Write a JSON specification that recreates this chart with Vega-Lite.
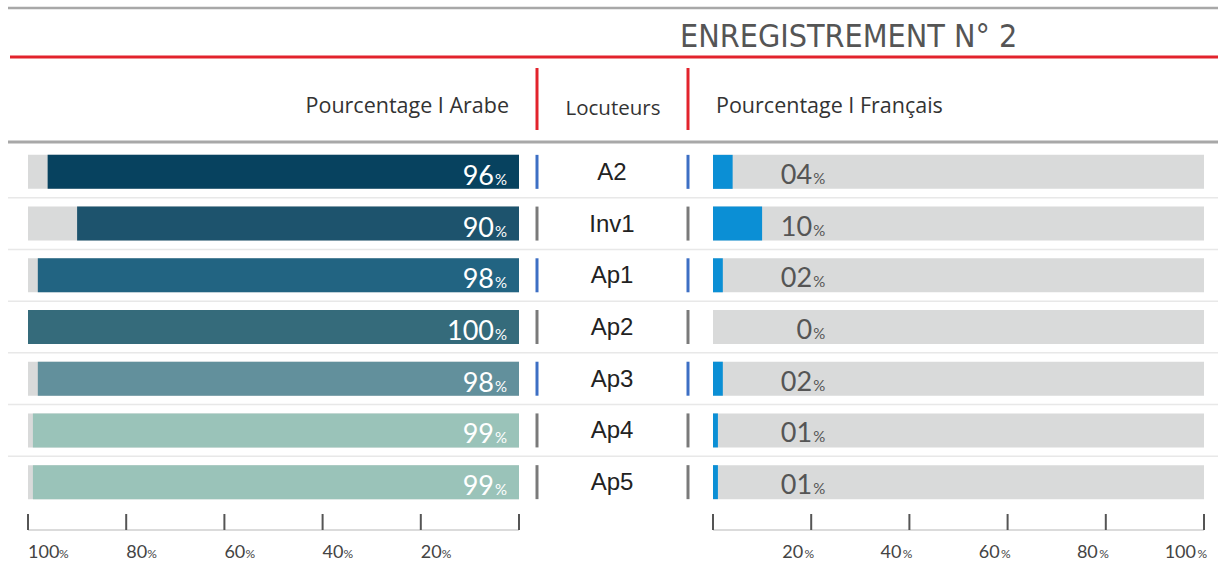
{
  "$schema": "https://vega.github.io/schema/vega-lite/v6.json",
  "width": 1220,
  "height": 562,
  "padding": 0,
  "autosize": {"type": "none"},
  "background": "white",
  "config": {"view": {"stroke": null}},
  "datasets": {
    "locuteurs": [
      {"locuteur": "A2", "arabe": 96, "francais": 4, "repere": "oui"},
      {"locuteur": "Inv1", "arabe": 90, "francais": 10, "repere": "non"},
      {"locuteur": "Ap1", "arabe": 98, "francais": 2, "repere": "oui"},
      {"locuteur": "Ap2", "arabe": 100, "francais": 0, "repere": "non"},
      {"locuteur": "Ap3", "arabe": 98, "francais": 2, "repere": "oui"},
      {"locuteur": "Ap4", "arabe": 99, "francais": 1, "repere": "non"},
      {"locuteur": "Ap5", "arabe": 99, "francais": 1, "repere": "non"}
    ],
    "graduations": [
      {"valeur": 0}, {"valeur": 20}, {"valeur": 40}, {"valeur": 60}, {"valeur": 80}, {"valeur": 100}
    ],
    "vide": [{}]
  },
  "resolve": {"scale": {"x": "independent", "color": "independent"}},
  "layer": [
    {
      "data": {"name": "vide"},
      "mark": {"type": "rule", "color": "#a8a8a8", "strokeWidth": 2.5},
      "encoding": {"x": {"value": 8}, "x2": {"value": 1218}, "y": {"value": 8}}
    },
    {
      "data": {"name": "vide"},
      "mark": {"type": "rule", "color": "#e2232c", "strokeWidth": 3},
      "encoding": {"x": {"value": 10}, "x2": {"value": 1218}, "y": {"value": 57}}
    },
    {
      "data": {"name": "vide"},
      "mark": {"type": "rule", "color": "#a8a8a8", "strokeWidth": 3},
      "encoding": {"x": {"value": 8}, "x2": {"value": 1218}, "y": {"value": 142}}
    },
    {
      "data": {"name": "vide"},
      "mark": {"type": "text", "text": "ENREGISTREMENT N° 2", "align": "left", "baseline": "alphabetic", "font": "Liberation Sans Narrow, DejaVu Sans Condensed, Liberation Sans", "fontSize": 32, "color": "#555555"},
      "encoding": {"x": {"value": 680}, "y": {"value": 47}}
    },
    {
      "data": {"name": "vide"},
      "mark": {"type": "text", "text": "Pourcentage I Arabe", "align": "right", "baseline": "alphabetic", "font": "Open Sans", "fontSize": 21.5, "color": "#333333"},
      "encoding": {"x": {"value": 509}, "y": {"value": 113}}
    },
    {
      "data": {"name": "vide"},
      "mark": {"type": "text", "text": "Locuteurs", "align": "center", "baseline": "alphabetic", "font": "Open Sans", "fontSize": 20.5, "color": "#333333"},
      "encoding": {"x": {"value": 613}, "y": {"value": 115}}
    },
    {
      "data": {"name": "vide"},
      "mark": {"type": "text", "text": "Pourcentage I Français", "align": "left", "baseline": "alphabetic", "font": "Open Sans", "fontSize": 21.5, "color": "#333333"},
      "encoding": {"x": {"value": 716}, "y": {"value": 113}}
    },
    {
      "data": {"name": "vide"},
      "mark": {"type": "rule", "color": "#e2232c", "strokeWidth": 3},
      "encoding": {"x": {"value": 537}, "y": {"value": 68}, "y2": {"value": 130}}
    },
    {
      "data": {"name": "vide"},
      "mark": {"type": "rule", "color": "#e2232c", "strokeWidth": 3},
      "encoding": {"x": {"value": 688}, "y": {"value": 68}, "y2": {"value": 130}}
    },
    {
      "data": {"name": "locuteurs"},
      "transform": [{"filter": "datum.locuteur !== 'Ap5'"}],
      "mark": {"type": "rule", "color": "#e8e8e8", "strokeWidth": 1.5},
      "encoding": {
        "x": {"value": 8}, "x2": {"value": 1218},
        "y": {"field": "locuteur", "type": "nominal", "bandPosition": 1, "sort": null, "axis": null,
              "scale": {"type": "band", "domain": ["A2", "Inv1", "Ap1", "Ap2", "Ap3", "Ap4", "Ap5"], "range": [146, 508], "paddingInner": 0, "paddingOuter": 0}}
      }
    },
    {
      "data": {"name": "locuteurs"},
      "mark": {"type": "bar", "height": 34, "color": "#d9dada", "orient": "horizontal"},
      "encoding": {
        "x": {"datum": 0, "type": "quantitative", "axis": null, "scale": {"domain": [0, 100], "range": [519, 28]}},
        "x2": {"datum": 100},
        "y": {"field": "locuteur", "type": "nominal", "sort": null, "axis": null,
              "scale": {"type": "band", "domain": ["A2", "Inv1", "Ap1", "Ap2", "Ap3", "Ap4", "Ap5"], "range": [146, 508], "paddingInner": 0, "paddingOuter": 0}}
      }
    },
    {
      "data": {"name": "locuteurs"},
      "mark": {"type": "bar", "height": 34, "orient": "horizontal"},
      "encoding": {
        "x": {"field": "arabe", "type": "quantitative", "axis": null, "scale": {"domain": [0, 100], "range": [519, 28]}},
        "x2": {"datum": 0},
        "y": {"field": "locuteur", "type": "nominal", "sort": null, "axis": null,
              "scale": {"type": "band", "domain": ["A2", "Inv1", "Ap1", "Ap2", "Ap3", "Ap4", "Ap5"], "range": [146, 508], "paddingInner": 0, "paddingOuter": 0}},
        "color": {"field": "locuteur", "type": "nominal", "legend": null,
                  "scale": {"domain": ["A2", "Inv1", "Ap1", "Ap2", "Ap3", "Ap4", "Ap5"],
                            "range": ["#07425f", "#1d536d", "#226482", "#356b7b", "#62909c", "#9ac3b9", "#9ac3b9"]}}
      }
    },
    {
      "data": {"name": "locuteurs"},
      "mark": {"type": "text", "align": "right", "baseline": "alphabetic", "dx": -25, "dy": 13, "font": "Lato", "fontWeight": 400, "fontSize": 27, "color": "white"},
      "encoding": {
        "x": {"datum": 0, "type": "quantitative", "axis": null, "scale": {"domain": [0, 100], "range": [519, 28]}},
        "y": {"field": "locuteur", "type": "nominal", "sort": null, "axis": null,
              "scale": {"type": "band", "domain": ["A2", "Inv1", "Ap1", "Ap2", "Ap3", "Ap4", "Ap5"], "range": [146, 508], "paddingInner": 0, "paddingOuter": 0}},
        "text": {"field": "arabe", "type": "quantitative", "format": "d"}
      }
    },
    {
      "data": {"name": "locuteurs"},
      "mark": {"type": "text", "text": "%", "align": "left", "baseline": "alphabetic", "dx": -24, "dy": 13, "font": "Lato", "fontWeight": 400, "fontSize": 15, "color": "white"},
      "encoding": {
        "x": {"datum": 0, "type": "quantitative", "axis": null, "scale": {"domain": [0, 100], "range": [519, 28]}},
        "y": {"field": "locuteur", "type": "nominal", "sort": null, "axis": null,
              "scale": {"type": "band", "domain": ["A2", "Inv1", "Ap1", "Ap2", "Ap3", "Ap4", "Ap5"], "range": [146, 508], "paddingInner": 0, "paddingOuter": 0}}
      }
    },
    {
      "data": {"name": "locuteurs"},
      "mark": {"type": "bar", "height": 34, "orient": "horizontal"},
      "encoding": {
        "x": {"value": 535.5}, "x2": {"value": 538.5},
        "y": {"field": "locuteur", "type": "nominal", "sort": null, "axis": null,
              "scale": {"type": "band", "domain": ["A2", "Inv1", "Ap1", "Ap2", "Ap3", "Ap4", "Ap5"], "range": [146, 508], "paddingInner": 0, "paddingOuter": 0}},
        "color": {"field": "repere", "type": "nominal", "legend": null,
                  "scale": {"domain": ["oui", "non"], "range": ["#3d6fc4", "#7a7a7a"]}}
      }
    },
    {
      "data": {"name": "locuteurs"},
      "mark": {"type": "bar", "height": 34, "orient": "horizontal"},
      "encoding": {
        "x": {"value": 686.5}, "x2": {"value": 689.5},
        "y": {"field": "locuteur", "type": "nominal", "sort": null, "axis": null,
              "scale": {"type": "band", "domain": ["A2", "Inv1", "Ap1", "Ap2", "Ap3", "Ap4", "Ap5"], "range": [146, 508], "paddingInner": 0, "paddingOuter": 0}},
        "color": {"field": "repere", "type": "nominal", "legend": null,
                  "scale": {"domain": ["oui", "non"], "range": ["#3d6fc4", "#7a7a7a"]}}
      }
    },
    {
      "data": {"name": "locuteurs"},
      "mark": {"type": "text", "align": "center", "baseline": "alphabetic", "dy": 8, "font": "Liberation Sans", "fontSize": 24, "color": "#222222"},
      "encoding": {
        "x": {"value": 612},
        "y": {"field": "locuteur", "type": "nominal", "sort": null, "axis": null,
              "scale": {"type": "band", "domain": ["A2", "Inv1", "Ap1", "Ap2", "Ap3", "Ap4", "Ap5"], "range": [146, 508], "paddingInner": 0, "paddingOuter": 0}},
        "text": {"field": "locuteur", "type": "nominal"}
      }
    },
    {
      "data": {"name": "locuteurs"},
      "mark": {"type": "bar", "height": 34, "color": "#d9dada", "orient": "horizontal"},
      "encoding": {
        "x": {"datum": 0, "type": "quantitative", "axis": null, "scale": {"domain": [0, 100], "range": [713, 1204]}},
        "x2": {"datum": 100},
        "y": {"field": "locuteur", "type": "nominal", "sort": null, "axis": null,
              "scale": {"type": "band", "domain": ["A2", "Inv1", "Ap1", "Ap2", "Ap3", "Ap4", "Ap5"], "range": [146, 508], "paddingInner": 0, "paddingOuter": 0}}
      }
    },
    {
      "data": {"name": "locuteurs"},
      "mark": {"type": "bar", "height": 34, "color": "#0b8fd5", "orient": "horizontal"},
      "encoding": {
        "x": {"field": "francais", "type": "quantitative", "axis": null, "scale": {"domain": [0, 100], "range": [713, 1204]}},
        "x2": {"datum": 0},
        "y": {"field": "locuteur", "type": "nominal", "sort": null, "axis": null,
              "scale": {"type": "band", "domain": ["A2", "Inv1", "Ap1", "Ap2", "Ap3", "Ap4", "Ap5"], "range": [146, 508], "paddingInner": 0, "paddingOuter": 0}}
      }
    },
    {
      "data": {"name": "locuteurs"},
      "mark": {"type": "text", "align": "right", "baseline": "alphabetic", "dx": 1, "dy": 12, "font": "Lato", "fontSize": 27, "color": "#555555"},
      "encoding": {
        "x": {"datum": 20, "type": "quantitative", "axis": null, "scale": {"domain": [0, 100], "range": [713, 1204]}},
        "y": {"field": "locuteur", "type": "nominal", "sort": null, "axis": null,
              "scale": {"type": "band", "domain": ["A2", "Inv1", "Ap1", "Ap2", "Ap3", "Ap4", "Ap5"], "range": [146, 508], "paddingInner": 0, "paddingOuter": 0}},
        "text": {"condition": {"test": "datum.francais === 0", "value": "0"}, "field": "francais", "type": "quantitative", "format": "02d"}
      }
    },
    {
      "data": {"name": "locuteurs"},
      "mark": {"type": "text", "text": "%", "align": "left", "baseline": "alphabetic", "dx": 2, "dy": 12, "font": "Lato", "fontSize": 15, "color": "#555555"},
      "encoding": {
        "x": {"datum": 20, "type": "quantitative", "axis": null, "scale": {"domain": [0, 100], "range": [713, 1204]}},
        "y": {"field": "locuteur", "type": "nominal", "sort": null, "axis": null,
              "scale": {"type": "band", "domain": ["A2", "Inv1", "Ap1", "Ap2", "Ap3", "Ap4", "Ap5"], "range": [146, 508], "paddingInner": 0, "paddingOuter": 0}}
      }
    },
    {
      "data": {"name": "vide"},
      "mark": {"type": "rule", "color": "#cfcfcf", "strokeWidth": 1.5},
      "encoding": {
        "x": {"datum": 0, "type": "quantitative", "axis": null, "scale": {"domain": [0, 100], "range": [519, 28]}},
        "x2": {"datum": 100},
        "y": {"value": 530}
      }
    },
    {
      "data": {"name": "graduations"},
      "mark": {"type": "rule", "color": "#555555", "strokeWidth": 2},
      "encoding": {
        "x": {"field": "valeur", "type": "quantitative", "axis": null, "scale": {"domain": [0, 100], "range": [519, 28]}},
        "y": {"value": 514}, "y2": {"value": 530}
      }
    },
    {
      "data": {"name": "graduations"},
      "transform": [{"filter": "datum.valeur > 0"}],
      "mark": {"type": "text", "align": "left", "baseline": "alphabetic", "font": "Lato", "fontSize": 18, "color": "#444444"},
      "encoding": {
        "x": {"field": "valeur", "type": "quantitative", "axis": null, "scale": {"domain": [0, 100], "range": [519, 28]}},
        "y": {"value": 558},
        "text": {"field": "valeur", "type": "quantitative", "format": "d"}
      }
    },
    {
      "data": {"name": "graduations"},
      "transform": [{"filter": "datum.valeur > 0 && datum.valeur < 100"}],
      "mark": {"type": "text", "text": "%", "align": "left", "baseline": "alphabetic", "dx": 21, "font": "Lato", "fontSize": 12, "color": "#444444"},
      "encoding": {
        "x": {"field": "valeur", "type": "quantitative", "axis": null, "scale": {"domain": [0, 100], "range": [519, 28]}},
        "y": {"value": 558}
      }
    },
    {
      "data": {"name": "graduations"},
      "transform": [{"filter": "datum.valeur === 100"}],
      "mark": {"type": "text", "text": "%", "align": "left", "baseline": "alphabetic", "dx": 31, "font": "Lato", "fontSize": 12, "color": "#444444"},
      "encoding": {
        "x": {"field": "valeur", "type": "quantitative", "axis": null, "scale": {"domain": [0, 100], "range": [519, 28]}},
        "y": {"value": 558}
      }
    },
    {
      "data": {"name": "vide"},
      "mark": {"type": "rule", "color": "#cfcfcf", "strokeWidth": 1.5},
      "encoding": {
        "x": {"datum": 0, "type": "quantitative", "axis": null, "scale": {"domain": [0, 100], "range": [713, 1204]}},
        "x2": {"datum": 100},
        "y": {"value": 530}
      }
    },
    {
      "data": {"name": "graduations"},
      "mark": {"type": "rule", "color": "#555555", "strokeWidth": 2},
      "encoding": {
        "x": {"field": "valeur", "type": "quantitative", "axis": null, "scale": {"domain": [0, 100], "range": [713, 1204]}},
        "y": {"value": 514}, "y2": {"value": 530}
      }
    },
    {
      "data": {"name": "graduations"},
      "transform": [{"filter": "datum.valeur > 0"}],
      "mark": {"type": "text", "align": "right", "baseline": "alphabetic", "dx": -8, "font": "Lato", "fontSize": 18, "color": "#444444"},
      "encoding": {
        "x": {"field": "valeur", "type": "quantitative", "axis": null, "scale": {"domain": [0, 100], "range": [713, 1204]}},
        "y": {"value": 558},
        "text": {"field": "valeur", "type": "quantitative", "format": "d"}
      }
    },
    {
      "data": {"name": "graduations"},
      "transform": [{"filter": "datum.valeur > 0"}],
      "mark": {"type": "text", "text": "%", "align": "right", "baseline": "alphabetic", "dx": 3, "font": "Lato", "fontSize": 12, "color": "#444444"},
      "encoding": {
        "x": {"field": "valeur", "type": "quantitative", "axis": null, "scale": {"domain": [0, 100], "range": [713, 1204]}},
        "y": {"value": 558}
      }
    }
  ]
}
